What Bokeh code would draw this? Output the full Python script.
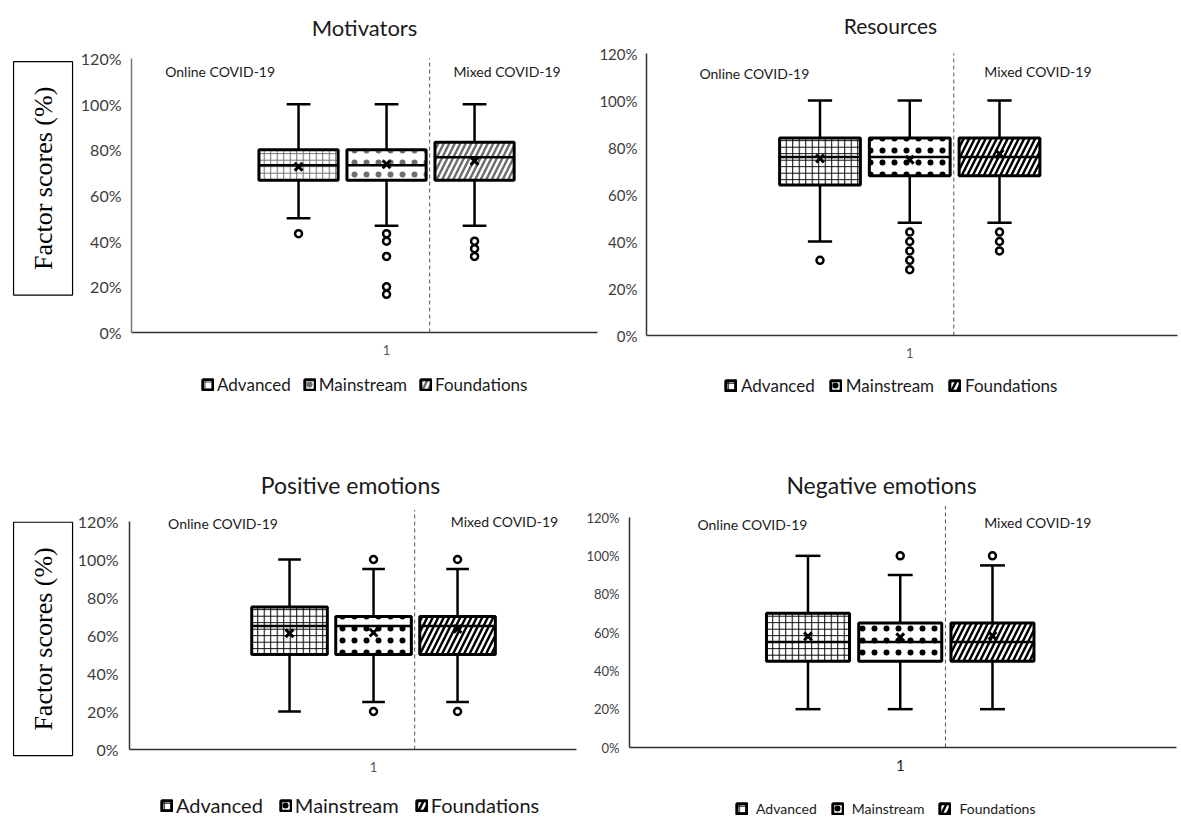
import math
from bokeh.plotting import figure
from bokeh.layouts import column, row
from bokeh.models import (Range1d, FixedTicker, PrintfTickFormatter, Label,
                          Legend, LegendItem, LinearAxis)
from bokeh.embed import file_html
from bokeh.resources import INLINE

# ---------------- data ----------------
groups = ["Advanced", "Mainstream", "Foundations"]
group_pos = [1, 2, 3]
y_ticks = [0, 20, 40, 60, 80, 100, 120]
x_tick_label = "1"
period_labels = ["Online COVID-19", "Mixed COVID-19"]
y_title = "Factor scores (%)"

# Motivators
mot_q1 = [66.7, 66.7, 66.7]
mot_q3 = [80.0, 80.0, 83.3]
mot_median = [73.3, 73.3, 76.7]
mot_mean = [72.6, 73.7, 75.1]
mot_low = [50.0, 46.7, 46.7]
mot_high = [100.0, 100.0, 100.0]
mot_outliers = [[43.3], [43.3, 40.0, 33.3, 20.0, 16.7], [40.0, 36.7, 33.3]]

# Resources
res_q1 = [64.0, 68.0, 68.0]
res_q3 = [84.0, 84.0, 84.0]
res_median = [76.0, 76.0, 76.0]
res_mean = [75.3, 74.8, 77.3]
res_low = [40.0, 48.0, 48.0]
res_high = [100.0, 100.0, 100.0]
res_outliers = [[32.0], [44.0, 40.0, 36.0, 32.0, 28.0], [44.0, 40.0, 36.0]]

# Positive emotions
pos_q1 = [50.0, 50.0, 50.0]
pos_q3 = [75.0, 70.0, 70.0]
pos_median = [65.0, 65.0, 65.0]
pos_mean = [61.2, 61.5, 63.5]
pos_low = [20.0, 25.0, 25.0]
pos_high = [100.0, 95.0, 95.0]
pos_outliers = [[], [100.0, 20.0], [100.0, 20.0]]

# Negative emotions
neg_q1 = [45.0, 45.0, 45.0]
neg_q3 = [70.0, 65.0, 65.0]
neg_median = [55.0, 55.0, 55.0]
neg_mean = [58.0, 57.5, 58.3]
neg_low = [20.0, 20.0, 20.0]
neg_high = [100.0, 90.0, 95.0]
neg_outliers = [[], [100.0], [100.0]]

# ---------------- styling ----------------
FONT = "Lato"
SERIF = "Liberation Serif"
HALF = 0.45
CAP = 0.135
DIVIDER = 2.49
Y_MAX = 120


def hatch_styles(hcol):
    return [
        dict(hatch_pattern="cross", hatch_scale=6.5, hatch_weight=1, hatch_color=hcol),
        dict(hatch_pattern="dot", hatch_scale=12, hatch_color=hcol),
        dict(hatch_pattern="right_diagonal_line", hatch_scale=11, hatch_weight=2.5,
             hatch_color=hcol),
    ]


def make_panel(title, q1, q3, med, mean, low, high, outliers, cfg):
    W, H = cfg["W"], cfg["H"]
    al, at, aw, ah = cfg["area"]          # plot area inside canvas (pixels)
    x0, x1 = cfg["xext"]                  # data extent of the x axis
    sx = (x1 - x0) / aw
    sy = Y_MAX / ah
    xr = Range1d(x0 - al * sx, x1 + (W - al - aw) * sx)
    yr = Range1d(0 - (H - at - ah) * sy, Y_MAX + at * sy)

    p = figure(width=W, height=H, min_border=0, x_range=xr, y_range=yr,
               x_axis_location=None, y_axis_location=None, title_location=None,
               output_backend="svg", toolbar_location=None)
    p.outline_line_color = None
    p.grid.visible = False
    p.background_fill_color = "white"
    p.border_fill_color = "white"

    yaxis = LinearAxis(fixed_location=x0, bounds=(0, Y_MAX),
                       ticker=FixedTicker(ticks=y_ticks),
                       formatter=PrintfTickFormatter(format="%d%%"))
    yaxis.major_tick_line_color = None
    yaxis.minor_tick_line_color = None
    yaxis.major_tick_out = 0
    yaxis.minor_tick_out = 0
    yaxis.major_label_standoff = cfg["ystand"]
    yaxis.major_label_text_font = FONT
    yaxis.major_label_text_font_size = cfg["yfs"]
    yaxis.major_label_text_color = "#3c3c3c"
    yaxis.axis_line_color = cfg["axcol"]
    yaxis.axis_line_width = 1.5
    p.add_layout(yaxis, "left")

    xaxis = LinearAxis(fixed_location=0, bounds=(x0, x1),
                       ticker=FixedTicker(ticks=[group_pos[1]]))
    xaxis.major_label_overrides = {group_pos[1]: x_tick_label}
    xaxis.major_tick_line_color = None
    xaxis.minor_tick_line_color = None
    xaxis.major_tick_out = 0
    xaxis.minor_tick_out = 0
    xaxis.major_label_standoff = 12
    xaxis.major_label_text_font = FONT
    xaxis.major_label_text_font_size = cfg["xfs"]
    xaxis.major_label_text_color = cfg["xcol"]
    xaxis.axis_line_color = "#333333"
    xaxis.axis_line_width = 1.5
    p.add_layout(xaxis, "below")

    # dashed divider between online and mixed groups
    p.segment(x0=[DIVIDER], y0=[0], x1=[DIVIDER], y1=[cfg["divtop"]],
              line_color="#555555", line_width=1, line_dash="4 3")

    styles = hatch_styles(cfg["hcol"])
    items = []
    for i, g in enumerate(groups):
        x = group_pos[i]
        p.segment(x0=[x, x], y0=[q3[i], q1[i]], x1=[x, x], y1=[high[i], low[i]],
                  line_color="black", line_width=2.5)
        p.segment(x0=[x - CAP, x - CAP], y0=[high[i], low[i]],
                  x1=[x + CAP, x + CAP], y1=[high[i], low[i]],
                  line_color="black", line_width=2.5)
        r = p.quad(left=[x - HALF], right=[x + HALF], bottom=[q1[i]], top=[q3[i]],
                   fill_color="white", line_color="black", line_width=3,
                   **styles[i])
        items.append(LegendItem(label=g, renderers=[r]))
        p.segment(x0=[x - HALF], y0=[med[i]], x1=[x + HALF], y1=[med[i]],
                  line_color="black", line_width=2.5)
        p.scatter(x=[x], y=[mean[i]], marker="x", size=11, line_width=3,
                  line_color="black")
        if outliers[i]:
            p.scatter(x=[x] * len(outliers[i]), y=outliers[i], marker="circle",
                      size=7, fill_color="white", line_color="black", line_width=2.5)

    # texts
    tx, ty = cfg["title_xy"]
    p.add_layout(Label(x=tx, y=ty, text=title, text_align="center",
                       text_baseline="middle", text_font=FONT,
                       text_font_size=cfg["tfs"], text_color="#1a1a1a"))
    (ox, oy), (mx, my) = cfg["online_xy"], cfg["mixed_xy"]
    p.add_layout(Label(x=ox, y=oy, text=period_labels[0], text_align="left",
                       text_baseline="middle", text_font=FONT,
                       text_font_size=cfg["pfs"], text_color="#1a1a1a"))
    p.add_layout(Label(x=mx, y=my, text=period_labels[1], text_align="left",
                       text_baseline="middle", text_font=FONT,
                       text_font_size=cfg["pfs"], text_color="#1a1a1a"))
    if cfg.get("ylab_xy"):
        lx, ly = cfg["ylab_xy"]
        p.add_layout(Label(x=lx, y=ly, text=y_title, angle=math.pi / 2,
                           text_align="center", text_baseline="middle",
                           text_font=SERIF, text_font_size="26px",
                           text_color="black", border_line_color="black",
                           border_line_width=1.2, background_fill_color="white",
                           padding=(25, 15)))

    legend = Legend(items=items, orientation="horizontal", location=cfg["lloc"],
                    border_line_color=None, background_fill_alpha=0,
                    label_text_font=FONT, label_text_font_size=cfg["lfs"],
                    label_text_color="#1a1a1a",
                    glyph_width=13, glyph_height=13, label_standoff=cfg["lstd"],
                    spacing=cfg["lsp"], padding=0, margin=0)
    p.add_layout(legend)
    return p


cfg_tl = dict(W=600, H=430, area=(131, 58, 466, 274), xext=(-0.898, 4.397),
              ystand=10, yfs="16px", xfs="13px", xcol="#595959", axcol="#7a7a7a",
              hcol="#6e6e6e", title_xy=(1.75, 133.5), tfs="22px", divtop=120,
              online_xy=(-0.515, 114.2), mixed_xy=(2.76, 114.2), pfs="14px",
              ylab_xy=(-1.903, 67.5), lfs="17px", lsp=12, lstd=3, lloc=(201, 35))
cfg_tr = dict(W=581, H=430, area=(46, 53, 531, 282), xext=(-0.933, 4.983),
              ystand=9, yfs="15px", xfs="13px", xcol="#595959", axcol="#333333",
              hcol="black", title_xy=(1.785, 131.9), tfs="21px", divtop=120,
              online_xy=(-0.343, 111.5), mixed_xy=(2.83, 112.3), pfs="14px",
              ylab_xy=None, lfs="17px", lsp=14, lstd=4, lloc=(124, 34))
cfg_bl = dict(W=580, H=388, area=(129, 91, 447, 228), xext=(-0.905, 4.416),
              ystand=11, yfs="16px", xfs="13px", xcol="#595959", axcol="#333333",
              hcol="black", title_xy=(1.726, 139.0), tfs="23px", divtop=126,
              online_xy=(-0.446, 119.1), mixed_xy=(2.92, 120.0), pfs="14px",
              ylab_xy=(-1.934, 58.2), lfs="20px", lsp=16, lstd=3, lloc=(160, 1))
cfg_br = dict(W=601, H=388, area=(49, 87, 547, 230), xext=(-0.935, 4.995),
              ystand=10, yfs="13px", xfs="15px", xcol="#222222", axcol="#333333",
              hcol="black", title_xy=(1.797, 136.7), tfs="23px", divtop=126,
              online_xy=(-0.198, 116.3), mixed_xy=(2.91, 117.4), pfs="14px",
              ylab_xy=None, lfs="14px", lsp=14, lstd=8, lloc=(155, 1))

p1 = make_panel("Motivators", mot_q1, mot_q3, mot_median, mot_mean, mot_low,
                mot_high, mot_outliers, cfg_tl)
p2 = make_panel("Resources", res_q1, res_q3, res_median, res_mean, res_low,
                res_high, res_outliers, cfg_tr)
p3 = make_panel("Positive emotions", pos_q1, pos_q3, pos_median, pos_mean, pos_low,
                pos_high, pos_outliers, cfg_bl)
p4 = make_panel("Negative emotions", neg_q1, neg_q3, neg_median, neg_mean, neg_low,
                neg_high, neg_outliers, cfg_br)

layout = column(row(p1, p2), row(p3, p4))
open("out.html", "w").write(file_html(layout, INLINE))
